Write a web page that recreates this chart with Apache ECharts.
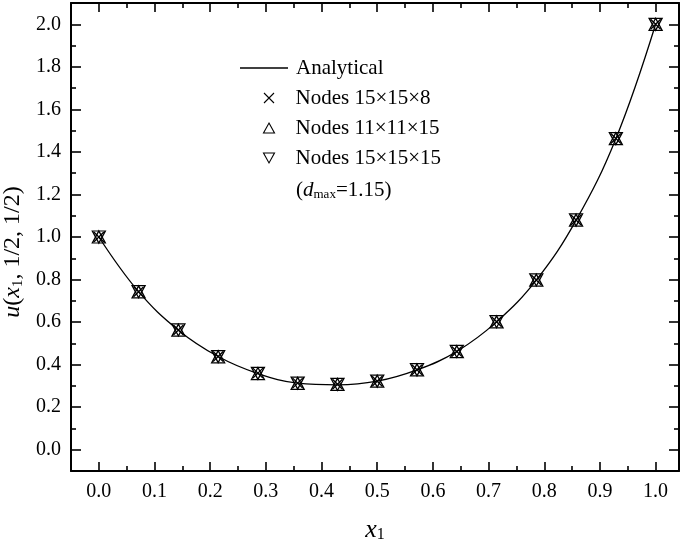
<!DOCTYPE html>
<html>
<head>
<meta charset="utf-8">
<script src="https://cdn.jsdelivr.net/npm/echarts@6/dist/echarts.min.js"></script>
<style>
html, body { margin: 0; padding: 0; background: #fff; }
#main { width: 685px; height: 547px; }
</style>
</head>
<body>
<div id="main"></div>
<script>
// x1 = i/14 nodes
var xNodes = [0, 0.0714, 0.1429, 0.2143, 0.2857, 0.3571, 0.4286, 0.5, 0.5714, 0.6429, 0.7143, 0.7857, 0.8571, 0.9286, 1.0];
var analytical = [1.0, 0.743, 0.562, 0.438, 0.358, 0.313, 0.305, 0.322, 0.375, 0.462, 0.601, 0.797, 1.078, 1.462, 2.0];
var nodes15x15x8 = [1.0, 0.743, 0.563, 0.438, 0.360, 0.313, 0.308, 0.322, 0.376, 0.462, 0.602, 0.798, 1.080, 1.463, 2.0];
var nodes11x11x15 = [1.0, 0.742, 0.562, 0.437, 0.358, 0.312, 0.307, 0.322, 0.375, 0.461, 0.601, 0.797, 1.079, 1.462, 2.0];
var nodes15x15x15 = [1.0, 0.743, 0.563, 0.438, 0.359, 0.313, 0.307, 0.323, 0.376, 0.462, 0.602, 0.798, 1.080, 1.463, 2.0];

// tick values
var xMajor = [0, 0.1, 0.2, 0.3, 0.4, 0.5, 0.6, 0.7, 0.8, 0.9, 1.0];
var xMinor = [0.05, 0.15, 0.25, 0.35, 0.45, 0.55, 0.65, 0.75, 0.85, 0.95];
var yMajor = [0, 0.2, 0.4, 0.6, 0.8, 1.0, 1.2, 1.4, 1.6, 1.8, 2.0];
var yMinor = [0.1, 0.3, 0.5, 0.7, 0.9, 1.1, 1.3, 1.5, 1.7, 1.9];

var FONT = "Liberation Serif";

function pairs(ys) {
  return xNodes.map(function (x, i) { return [x, ys[i]]; });
}

function axis(type, pos, ticks, len, main) {
  return {
    type: "value",
    position: pos,
    min: type === "x" ? -0.05 : -0.1,
    max: type === "x" ? 1.042 : 2.1,
    splitLine: { show: false },
    axisLine: { show: main, onZero: false, lineStyle: { color: "#000", width: 2 } },
    axisTick: {
      show: true, inside: true, length: len, customValues: ticks,
      lineStyle: { color: "#000", width: 1.6 }
    },
    axisLabel: { show: false }
  };
}

function nameStyle(size, extra) {
  return Object.assign({
    fontFamily: FONT, fontSize: size, color: "#000",
    rich: {
      i: { fontFamily: FONT, fontSize: size, fontStyle: "italic", color: "#000" },
      sub: { fontFamily: FONT, fontSize: Math.round(size * 0.62), lineHeight: 6, verticalAlign: "bottom", color: "#000" }
    }
  }, extra || {});
}

var xAxes = [
  axis("x", "bottom", xMajor, 9, true),
  axis("x", "bottom", xMinor, 5, false),
  axis("x", "top", xMajor, 9, true),
  axis("x", "top", xMinor, 5, false)
];
xAxes[0].axisLabel = {
  show: true, customValues: xMajor, margin: 11,
  fontFamily: FONT, fontSize: 20, color: "#000",
  formatter: function (v) { return v.toFixed(1); }
};
xAxes[0].name = "{i|x}{sub|1}";
xAxes[0].nameLocation = "middle";
xAxes[0].nameGap = 46;
xAxes[0].nameTextStyle = nameStyle(26);

var yAxes = [
  axis("y", "left", yMajor, 10, true),
  axis("y", "left", yMinor, 5, false),
  axis("y", "right", yMajor, 10, true),
  axis("y", "right", yMinor, 5, false)
];
yAxes[0].axisLabel = {
  show: true, customValues: yMajor, margin: 10,
  fontFamily: FONT, fontSize: 20, color: "#000",
  formatter: function (v) { return v.toFixed(1); }
};
yAxes[0].name = "{i|u}({i|x}{sub|1}, 1/2, 1/2)";
yAxes[0].nameLocation = "middle";
yAxes[0].nameRotate = 90;
yAxes[0].nameGap = 37;
yAxes[0].nameTextStyle = nameStyle(24, { padding: [0, 30, 0, 0] });

var crossIcon = "path://M0,0L10,10M10,0L0,10";
var upIcon = "path://M5,0L10,9L0,9Z";
var downIcon = "path://M0,0L10,0L5,9Z";

function nodeSeries(name, ys, icon, size) {
  return {
    name: name,
    type: "scatter",
    data: pairs(ys),
    symbol: icon,
    symbolSize: size,
    itemStyle: { color: "none", borderColor: "#000", borderWidth: 1.3, opacity: 1 },
    emphasis: { disabled: true },
    z: 3
  };
}

var legendText = { fontFamily: FONT, fontSize: 21, color: "#000", lineHeight: 24 };

var option = {
  animation: false,
  backgroundColor: "#fff",
  grid: { left: 71, right: 6, top: 3, bottom: 76, containLabel: false, outerBoundsMode: "none" },
  xAxis: xAxes,
  yAxis: yAxes,
  legend: [
    {
      data: [{ name: "Analytical", icon: "rect" }],
      left: 235, top: 51,
      itemWidth: 48, itemHeight: 1.3,
      itemStyle: { color: "#000", borderWidth: 0 },
      textStyle: Object.assign({ padding: [0, 0, 0, 3] }, legendText)
    },
    {
      data: [
        { name: "Nodes 15×15×8", icon: crossIcon },
        { name: "Nodes 11×11×15", icon: upIcon },
        { name: "Nodes 15×15×15", icon: downIcon }
      ],
      orient: "vertical",
      left: 256, top: 81,
      itemWidth: 11, itemHeight: 10, itemGap: 6,
      itemStyle: { color: "none", borderColor: "#000", borderWidth: 1.1 },
      textStyle: Object.assign({ padding: [0, 0, 0, 16] }, legendText)
    }
  ],
  graphic: [
    {
      type: "text",
      left: 296, top: 180,
      style: {
        text: "({i|d}{sub|max}=1.15)",
        fontFamily: FONT, fontSize: 21, fill: "#000",
        rich: {
          i: { fontFamily: FONT, fontSize: 21, fontStyle: "italic", color: "#000" },
          sub: { fontFamily: FONT, fontSize: 13, lineHeight: 4, verticalAlign: "bottom", color: "#000" }
        }
      }
    }
  ],
  series: [
    {
      name: "Analytical",
      type: "line",
      data: pairs(analytical),
      smooth: 0.4,
      showSymbol: false,
      symbol: "none",
      lineStyle: { color: "#000", width: 1.3 },
      itemStyle: { color: "#000" },
      emphasis: { disabled: true },
      z: 2
    },
    nodeSeries("Nodes 15×15×8", nodes15x15x8, crossIcon, 10),
    nodeSeries("Nodes 11×11×15", nodes11x11x15, upIcon, [13, 12]),
    nodeSeries("Nodes 15×15×15", nodes15x15x15, downIcon, [13, 12])
  ]
};

var chart = echarts.init(document.getElementById("main"));
chart.setOption(option);
</script>
</body>
</html>
